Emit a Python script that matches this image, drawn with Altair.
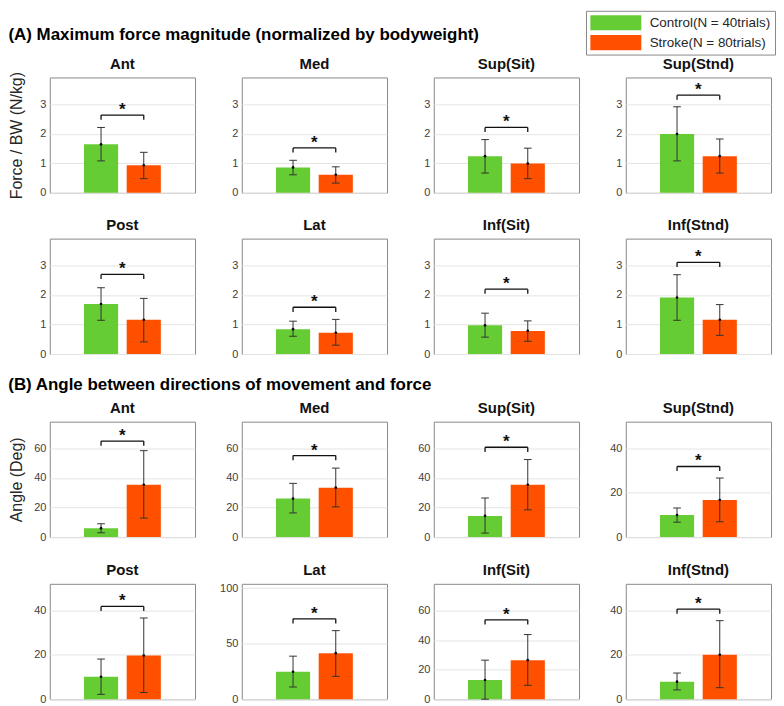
import altair as alt
import pandas as pd

PANELS = ["Ant", "Med", "Sup(Sit)", "Sup(Stnd)", "Post", "Lat", "Inf(Sit)", "Inf(Stnd)"]
GROUPS = ["Control(N = 40trials)", "Stroke(N = 80trials)"]
COLORS = ["#66CC33", "#FF5000"]

# (A) Maximum force magnitude (N/kg)
force_ctrl_mean = [1.64, 0.86, 1.24, 1.99, 1.69, 0.84, 0.97, 1.91]
force_ctrl_lo = [1.08, 0.61, 0.67, 1.08, 1.14, 0.60, 0.57, 1.14]
force_ctrl_hi = [2.21, 1.10, 1.80, 2.91, 2.24, 1.11, 1.38, 2.68]
force_str_mean = [0.93, 0.61, 0.99, 1.24, 1.16, 0.72, 0.78, 1.16]
force_str_lo = [0.48, 0.33, 0.48, 0.67, 0.41, 0.30, 0.43, 0.63]
force_str_hi = [1.37, 0.88, 1.51, 1.82, 1.88, 1.17, 1.12, 1.67]
force_bracket = [2.63, 1.52, 2.21, 3.30, 2.69, 1.58, 2.19, 3.10]
force_ymax = [3.9, 3.9, 3.9, 3.9, 3.9, 3.9, 3.9, 3.9]
force_ticks = [[0, 1, 2, 3]] * 8

# (B) Angle between directions of movement and force (deg)
angle_ctrl_mean = [6.0, 26.0, 14.3, 9.9, 10.1, 24.8, 13.0, 7.9]
angle_ctrl_lo = [2.9, 16.3, 2.7, 6.7, 2.2, 11.0, 0.0, 4.2]
angle_ctrl_hi = [9.0, 36.3, 26.4, 13.1, 18.1, 38.8, 26.4, 11.8]
angle_str_mean = [35.4, 33.4, 35.4, 16.7, 19.7, 41.5, 26.4, 20.0]
angle_str_lo = [12.8, 20.4, 18.4, 6.9, 3.0, 20.6, 9.4, 5.2]
angle_str_hi = [58.4, 46.6, 52.4, 26.6, 36.6, 61.8, 43.7, 35.4]
angle_bracket = [64.9, 55.1, 60.7, 31.8, 41.8, 72.5, 53.7, 40.6]
angle_ymax = [78, 78, 78, 52, 52, 104, 78, 52]
angle_ticks = [[0, 20, 40, 60], [0, 20, 40, 60], [0, 20, 40, 60], [0, 20, 40],
               [0, 20, 40], [0, 50, 100], [0, 20, 40, 60], [0, 20, 40]]

PW, PH = 146, 116

LEGEND = alt.Legend(
    orient="none", legendX=539, legendY=-67, title=None,
    symbolType="M-3.2,-0.95H3.2V0.95H-3.2Z", symbolSize=256, symbolStrokeWidth=0,
    symbolOffset=18, labelOffset=26,
    labelFontSize=13.5, labelColor="#262626",
    strokeColor="#888888", fillColor="white", padding=4, rowPadding=4,
)


def make_panel(name, cm, clo, chi, sm, slo, shi, brk, ymax, ticks, ytitle, tpad, tdy):
    bars = pd.DataFrame({
        "group": GROUPS, "pos": [1.0, 2.0],
        "mean": [cm, sm], "lo": [clo, slo], "hi": [chi, shi],
    })
    bars["x0"] = bars["pos"] - 0.4
    bars["x1"] = bars["pos"] + 0.4
    bars["c0"] = bars["pos"] - 0.09
    bars["c1"] = bars["pos"] + 0.09
    bars["zero"] = 0.0
    drop = 0.04 * ymax
    bt = pd.DataFrame({"pos": [1.0, 2.0], "top": [brk, brk], "bot": [brk - drop, brk - drop]})
    br = pd.DataFrame({"a": [1.0], "b": [2.0], "y": [brk], "mid": [1.5]})

    xs = alt.Scale(domain=[-0.2, 3.2], nice=False, zero=False)
    ys = alt.Scale(domain=[0, ymax], nice=False, zero=False)
    yaxis = alt.Axis(values=ticks, title=ytitle, titlePadding=tpad, ticks=False,
                     domain=False, grid=True, labelPadding=4)

    def X(f):
        return alt.X(f, type="quantitative", scale=xs, axis=None)

    def Y(f):
        return alt.Y(f, type="quantitative", scale=ys, axis=yaxis)

    bar = alt.Chart(bars).mark_bar().encode(
        x=X("x0"), x2="x1", y=Y("mean"), y2="zero",
        color=alt.Color("group:N", scale=alt.Scale(domain=GROUPS, range=COLORS), legend=LEGEND),
    )
    err = alt.Chart(bars).mark_rule(color="#333333", strokeWidth=1).encode(
        x=X("pos"), y=Y("lo"), y2="hi")
    cap_hi = alt.Chart(bars).mark_rule(color="#333333", strokeWidth=1).encode(
        x=X("c0"), x2="c1", y=Y("hi"))
    cap_lo = alt.Chart(bars).mark_rule(color="#333333", strokeWidth=1).encode(
        x=X("c0"), x2="c1", y=Y("lo"))
    dot = alt.Chart(bars).mark_circle(size=7, color="black", opacity=1).encode(
        x=X("pos"), y=Y("mean"))
    bline = alt.Chart(br).mark_rule(color="#111111", strokeWidth=1.3).encode(
        x=X("a"), x2="b", y=Y("y"))
    bticks = alt.Chart(bt).mark_rule(color="#111111", strokeWidth=1.3).encode(
        x=X("pos"), y=Y("bot"), y2="top")
    star = alt.Chart(br).mark_text(text="*", fontSize=17, fontWeight="bold",
                                   color="#111111", baseline="middle", dy=-5).encode(
        x=X("mid"), y=Y("y"))
    return alt.layer(bar, err, cap_hi, cap_lo, dot, bline, bticks, star).properties(
        width=PW, height=PH,
        title=alt.TitleParams(name, fontSize=15, fontWeight="bold", offset=6, dy=tdy,
                              color="#111111", frame="group"),
    )


def section(cm, clo, chi, sm, slo, shi, brk, ymax, ticks, ytitle, tpad, title, rowgap,
            toff, title_dy):
    panels = []
    for i, name in enumerate(PANELS):
        if i == 0:
            yt = ytitle
        elif i == 4:
            yt = " "
        else:
            yt = None
        panels.append(make_panel(
            name, cm[i], clo[i], chi[i], sm[i], slo[i], shi[i], brk[i], ymax[i], ticks[i],
            yt, tpad, title_dy[i]))
    row1 = alt.hconcat(*panels[0:4], spacing=47, bounds="flush")
    row2 = alt.hconcat(*panels[4:8], spacing=47, bounds="flush")
    return alt.vconcat(row1, row2, spacing=rowgap,
                       title=alt.TitleParams(title, anchor="start", fontSize=17,
                                             fontWeight="bold", offset=toff, color="#000000"))


secA = section(force_ctrl_mean, force_ctrl_lo, force_ctrl_hi, force_str_mean, force_str_lo,
               force_str_hi, force_bracket, force_ymax, force_ticks, "Force / BW (N/kg)", 15,
               "(A) Maximum force magnitude (normalized by bodyweight)", 17, 12,
               [6, 0, 0, 0, 0, 0, 0, 0])
secB = section(angle_ctrl_mean, angle_ctrl_lo, angle_ctrl_hi, angle_str_mean, angle_str_lo,
               angle_str_hi, angle_bracket, angle_ymax, angle_ticks, "Angle (Deg)", 9,
               "(B) Angle between directions of movement and force", 19, 6,
               [0, 0, 0, 0, 0, 2, 0, 0])

chart = alt.vconcat(secA, secB, spacing=16).properties(
    padding=0
).configure(font="Liberation Sans").configure_view(
    stroke="#888888", strokeWidth=1
).configure_axis(
    labelFontSize=11, labelColor="#404040", titleFontSize=16, titleFontWeight="normal",
    titleColor="#262626", gridColor="#e4e4e4",
)

chart.save("out.html", embed_options={"renderer": "svg", "actions": False})
